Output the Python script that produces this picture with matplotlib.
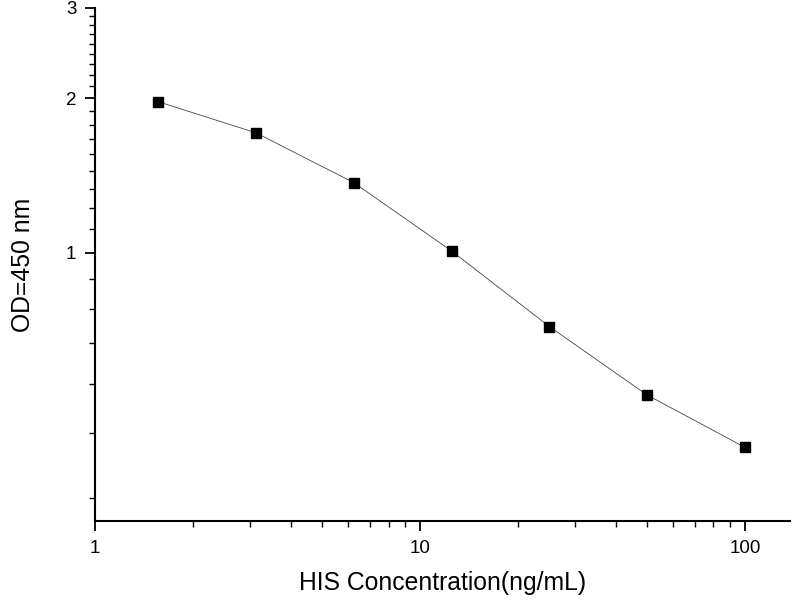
import matplotlib
matplotlib.use("Agg")
import matplotlib.pyplot as plt
from matplotlib.ticker import FixedLocator, NullFormatter, FixedFormatter

plt.rcParams['font.family'] = ['Liberation Sans', 'DejaVu Sans']

concentration = [1.5625, 3.125, 6.25, 12.5, 25, 50, 100]
od450 = [1.970, 1.713, 1.370, 1.008, 0.718, 0.528, 0.4175]

x_major = [1, 10, 100]
x_major_labels = ["1", "10", "100"]
y_major = [1, 2, 3]
y_major_labels = ["1", "2", "3"]

fig = plt.figure(figsize=(8, 6), dpi=100)
ax = fig.add_axes([0.119, 0.1317, 0.869, 0.855])

ax.plot(concentration, od450, color='#444444', lw=0.6, marker='s',
        markersize=7, markerfacecolor='black', markeredgecolor='black')

ax.set_xscale('log')
ax.set_yscale('log')
ax.set_xlim(1, 138)
ax.set_ylim(0.3, 3)

ax.xaxis.set_major_locator(FixedLocator(x_major))
ax.xaxis.set_major_formatter(FixedFormatter(x_major_labels))
x_minor = [m * d for d in (1, 10) for m in range(2, 10)]
ax.xaxis.set_minor_locator(FixedLocator(x_minor))
ax.xaxis.set_minor_formatter(NullFormatter())

ax.yaxis.set_major_locator(FixedLocator(y_major))
ax.yaxis.set_major_formatter(FixedFormatter(y_major_labels))
y_minor = [v / 9 for v in range(3, 27) if v % 9 != 0]
ax.yaxis.set_minor_locator(FixedLocator(y_minor))
ax.yaxis.set_minor_formatter(NullFormatter())

for s in ('top', 'right'):
    ax.spines[s].set_visible(False)
for s in ('left', 'bottom'):
    ax.spines[s].set_linewidth(1.5)

ax.tick_params(which='major', direction='out', length=7.5, width=1.3, labelsize=13.5, pad=6)
ax.tick_params(which='minor', direction='out', length=4.5, width=1.0)

ax.set_xlabel('HIS Concentration(ng/mL)', fontsize=17.8, labelpad=10)
ax.set_ylabel('OD=450 nm', fontsize=17.8, labelpad=22)

fig.savefig('out.png', dpi=100)
